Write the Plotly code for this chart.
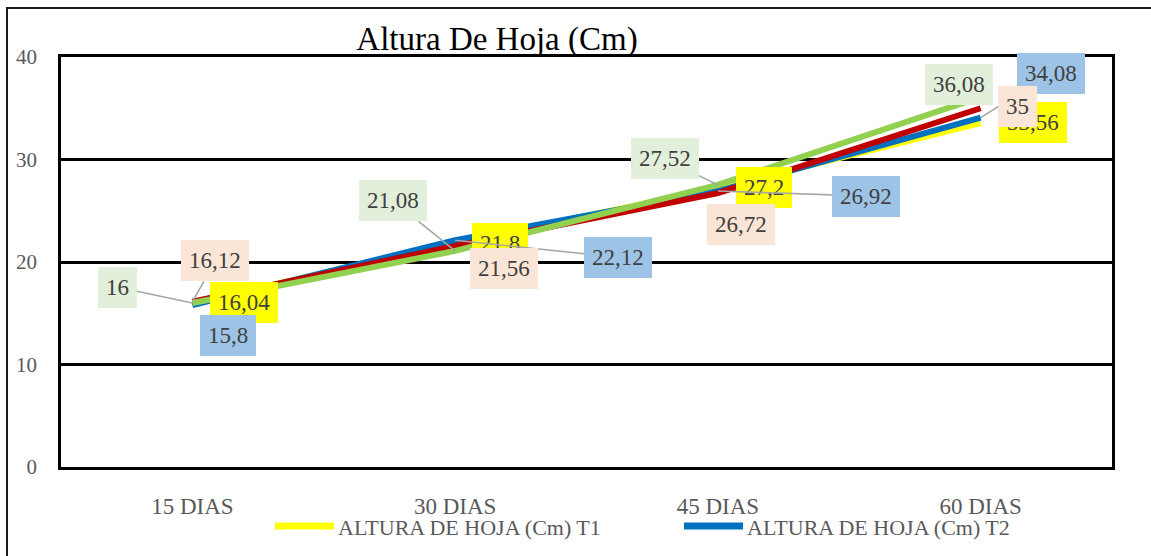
import plotly.graph_objects as go

categories = ["15 DIAS", "30 DIAS", "45 DIAS", "60 DIAS"]
series_names = ["ALTURA DE HOJA (Cm) T1", "ALTURA DE HOJA (Cm) T2",
                "ALTURA DE HOJA (Cm) T3", "ALTURA DE HOJA (Cm) T4"]
t1 = [16.04, 21.8, 27.2, 33.56]
t2 = [15.8, 22.12, 26.92, 34.08]
t3 = [16.12, 21.56, 26.72, 35]
t4 = [16, 21.08, 27.52, 36.08]
series_values = [t1, t2, t3, t4]

line_colors = ["#FFFF00", "#0070C0", "#C00000", "#92D050"]
box_colors = ["#FFFF00", "#9DC3E6", "#FBE5D6", "#E2EFDA"]

# label offsets in pixels (dx, dy) from the point, and whether a leader line is drawn
label_offsets = [
    [(52, 0), (45, 0), (46, -1), (52, -1)],
    [(36, 30), (163, 17), (148, 5), (70, -44)],
    [(23, -41), (49, 22), (23, 31), (37, -2)],
    [(-75, -16), (-62, -50), (-53, -26), (-22, -13)],
]
leaders = [
    [False, False, False, False],
    [False, True, True, True],
    [True, False, False, False],
    [True, True, True, False],
]
# visible legend entries (the reference legend is cut after two items): left pixel of symbol
legend_symbol_x = [275, 684]

SERIF = "Liberation Serif"

fig = go.Figure()
for name, vals, lc in zip(series_names, series_values, line_colors):
    fig.add_trace(go.Scatter(
        x=categories, y=vals, mode="lines", name=name,
        line=dict(color=lc, width=6), showlegend=False,
    ))

W, H = 1151, 556
L, R, T, B = 61, 1112, 57, 467

def px_x(p):
    return (p - L) / (R - L)

def px_y(p):
    return (B - p) / (B - T)

annotations = []
for vals, bc, offs, leads in zip(series_values, box_colors, label_offsets, leaders):
    for cat, v, (dx, dy), lead in zip(categories, vals, offs, leads):
        annotations.append(dict(
            x=cat, y=v, xref="x", yref="y",
            text=f"{v:g}".replace(".", ","),
            showarrow=True, ax=dx, ay=dy, axref="pixel", ayref="pixel",
            arrowhead=0, arrowwidth=1.6, standoff=0,
            arrowcolor="#A6A6A6" if lead else "rgba(0,0,0,0)",
            bgcolor=bc, borderpad=8, borderwidth=0,
            font=dict(family=SERIF, size=23, color="#404040"),
        ))

shapes = [dict(type="rect", xref="paper", yref="paper",
               x0=px_x(7), x1=px_x(1175), y0=px_y(600), y1=px_y(8),
               line=dict(color="#1a1a1a", width=2), fillcolor="rgba(0,0,0,0)",
               layer="below")]

# custom legend (symbols drawn as line shapes, names as text)
LEG_Y = 526
for name, lc, sx in zip(series_names, line_colors, legend_symbol_x):
    shapes.append(dict(type="line", xref="paper", yref="paper",
                       x0=px_x(sx), x1=px_x(sx + 59), y0=px_y(LEG_Y), y1=px_y(LEG_Y),
                       line=dict(color=lc, width=7)))
    annotations.append(dict(text=name, xref="paper", yref="paper",
                            x=px_x(sx + 61), y=px_y(LEG_Y + 1), xanchor="left", yanchor="middle",
                            showarrow=False,
                            font=dict(family=SERIF, size=22, color="#595959")))

fig.update_layout(
    width=W, height=H,
    margin=dict(l=L, r=W - R, t=T, b=H - B, autoexpand=False),
    paper_bgcolor="white", plot_bgcolor="white",
    showlegend=False,
    title=dict(text="Altura De Hoja (Cm)", font=dict(family=SERIF, size=33, color="black"),
               x=px_x(497), xref="paper", xanchor="center",
               y=1 - 38 / H, yref="container", yanchor="middle"),
    xaxis=dict(type="category", range=[-0.5, 3.5], showgrid=False, ticks="",
               showline=True, linecolor="black", linewidth=2.5, mirror=True,
               tickfont=dict(family=SERIF, size=23, color="#595959"),
               ticklabelstandoff=17, automargin=False),
    yaxis=dict(range=[0, 40], dtick=10, showgrid=True, gridcolor="black", gridwidth=2.5,
               zeroline=False, ticks="",
               showline=True, linecolor="black", linewidth=2.5, mirror=True,
               tickfont=dict(family=SERIF, size=21, color="#595959"),
               ticklabelstandoff=17, automargin=False),
    annotations=annotations,
    shapes=shapes,
)

fig.write_html("out.html")
